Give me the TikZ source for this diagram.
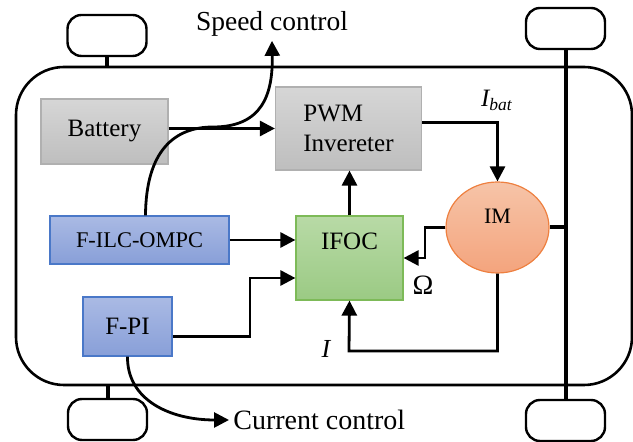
\documentclass[tikz,border=0pt]{standalone}
\usepackage{fontspec}
\setmainfont{Liberation Serif}
\usetikzlibrary{arrows.meta,shapes.geometric}

\definecolor{graytop}{HTML}{D6D6D6}
\definecolor{graybot}{HTML}{BEBEBE}
\definecolor{grayedge}{HTML}{B0B0B0}
\definecolor{bluetop}{HTML}{AABAE4}
\definecolor{bluebot}{HTML}{889FD8}
\definecolor{blueedge}{HTML}{4A78C8}
\definecolor{greentop}{HTML}{B8DAA6}
\definecolor{greenbot}{HTML}{9BCA84}
\definecolor{greenedge}{HTML}{7DBA58}
\definecolor{orangetop}{HTML}{F6C4A8}
\definecolor{orangebot}{HTML}{F4A47D}
\definecolor{orangeedge}{HTML}{EE8040}

\begin{document}
\begin{tikzpicture}[x=0.5pt, y=-0.5pt,
    arr/.style={-{Triangle[length=7.5pt,width=7.5pt]}, line width=1.4pt},
    wheel/.style={draw, line width=1.2pt, rounded corners=7pt, minimum width=39.5pt, minimum height=20.5pt, inner sep=0pt},
    block/.style={draw, line width=0.6pt, inner sep=0pt, font=\fontsize{12.5}{15}\selectfont},
    graybox/.style={block, draw=grayedge, top color=graytop, bottom color=graybot},
    bluebox/.style={block, draw=blueedge, top color=bluetop, bottom color=bluebot},
    lbl/.style={inner sep=2pt, font=\fontsize{13.75}{16}\selectfont}]
    \useasboundingbox (0,0) rectangle (633,442);

    % car body and wheels
    \node[draw, line width=1.3pt, rounded corners=24pt, minimum width=308pt, minimum height=159pt] (body) at (324,226) {};
    \node[wheel] (wtl) at (107,35.5) {};
    \node[wheel] (wbl) at (107.5,419.5) {};
    \node[wheel] (wtr) at (565.5,28.5) {};
    \node[wheel] (wbr) at (565.5,420.5) {};
    \draw[line width=2pt] (wtl.south) -- (wtl.south |- body.north);
    \draw[line width=2pt] (wbl.north) -- (wbl.north |- body.south);
    \draw[line width=2pt] (wtr.south) -- (wbr.north);

    % blocks
    \node[graybox, minimum width=63.5pt, minimum height=32.5pt] (battery) at (104.5,131.5) {Battery};
    \node[graybox, align=left, minimum width=73pt, minimum height=41.5pt] (pwm) at (348.5,128.5) {PWM\\Invereter};
    \node[bluebox, font=\fontsize{11.2}{13}\selectfont, minimum width=89.5pt, minimum height=24pt] (filc) at (139.5,240) {F-ILC-OMPC};
    \node[bluebox, minimum width=44.5pt, minimum height=29.5pt] (fpi) at (127.5,326.5) {F-PI};
    \node[block, draw=greenedge, top color=greentop, bottom color=greenbot,
        minimum width=53.5pt, minimum height=42pt, text height=17pt, text depth=25pt] (ifoc) at (349.5,258) {IFOC};
    \node[block, ellipse, draw=orangeedge, top color=orangetop, bottom color=orangebot, font=\fontsize{11}{13}\selectfont,
        minimum width=51.5pt, minimum height=45.5pt, text height=8pt, text depth=11.5pt] (im) at (497.5,227.5) {IM};
    \draw[line width=2pt] (im.east) -- (im.east -| wtr.south);

    % labels
    \node[lbl] (speed) at (272,24) {Speed control};
    \node[lbl, anchor=west, font=\fontsize{14}{16}\selectfont] (current) at (229,420) {Current control};
    \node[lbl, font=\fontsize{12.5}{14}\selectfont] (ibat) at (497,100) {\itshape I\textsubscript{bat}};
    \node[lbl, font=\fontsize{14}{16}\selectfont] (omega) at (423,285) {Ω};
    \node[lbl, font=\fontsize{13}{14}\selectfont] (icur) at (326,349) {\itshape I};

    % signal paths
    \coordinate (fpibend) at (250,278);
    \coordinate (omegabend) at (425,258);
    \coordinate (ibend) at (349,351);
    \draw[arr] (pwm.west -| battery.east) -- (pwm.west);
    \draw[arr] (filc.east) -- (filc.east -| ifoc.west);
    \draw[arr] ([yshift=-5pt]fpi.east) -| (fpibend) -- (fpibend -| ifoc.west);
    \draw[arr] (ifoc.north) -- (ifoc.north |- pwm.south);
    \draw[arr] ([yshift=3pt]pwm.east) -| (im.north);
    \draw[arr] (im.west) -| (omegabend) -- (omegabend -| ifoc.east);
    \draw[arr] (im.south) |- (ibend) -- (ifoc.south);

    \draw[arr] ([xshift=3pt]filc.north) .. controls (146,150) and (175,127) .. (213,127)
        .. controls (262,127) and (273,95) .. (speed.south);
    \draw[arr] (fpi.south) .. controls (127,400) and (170,420) .. (current.west);
\end{tikzpicture}
\end{document}
